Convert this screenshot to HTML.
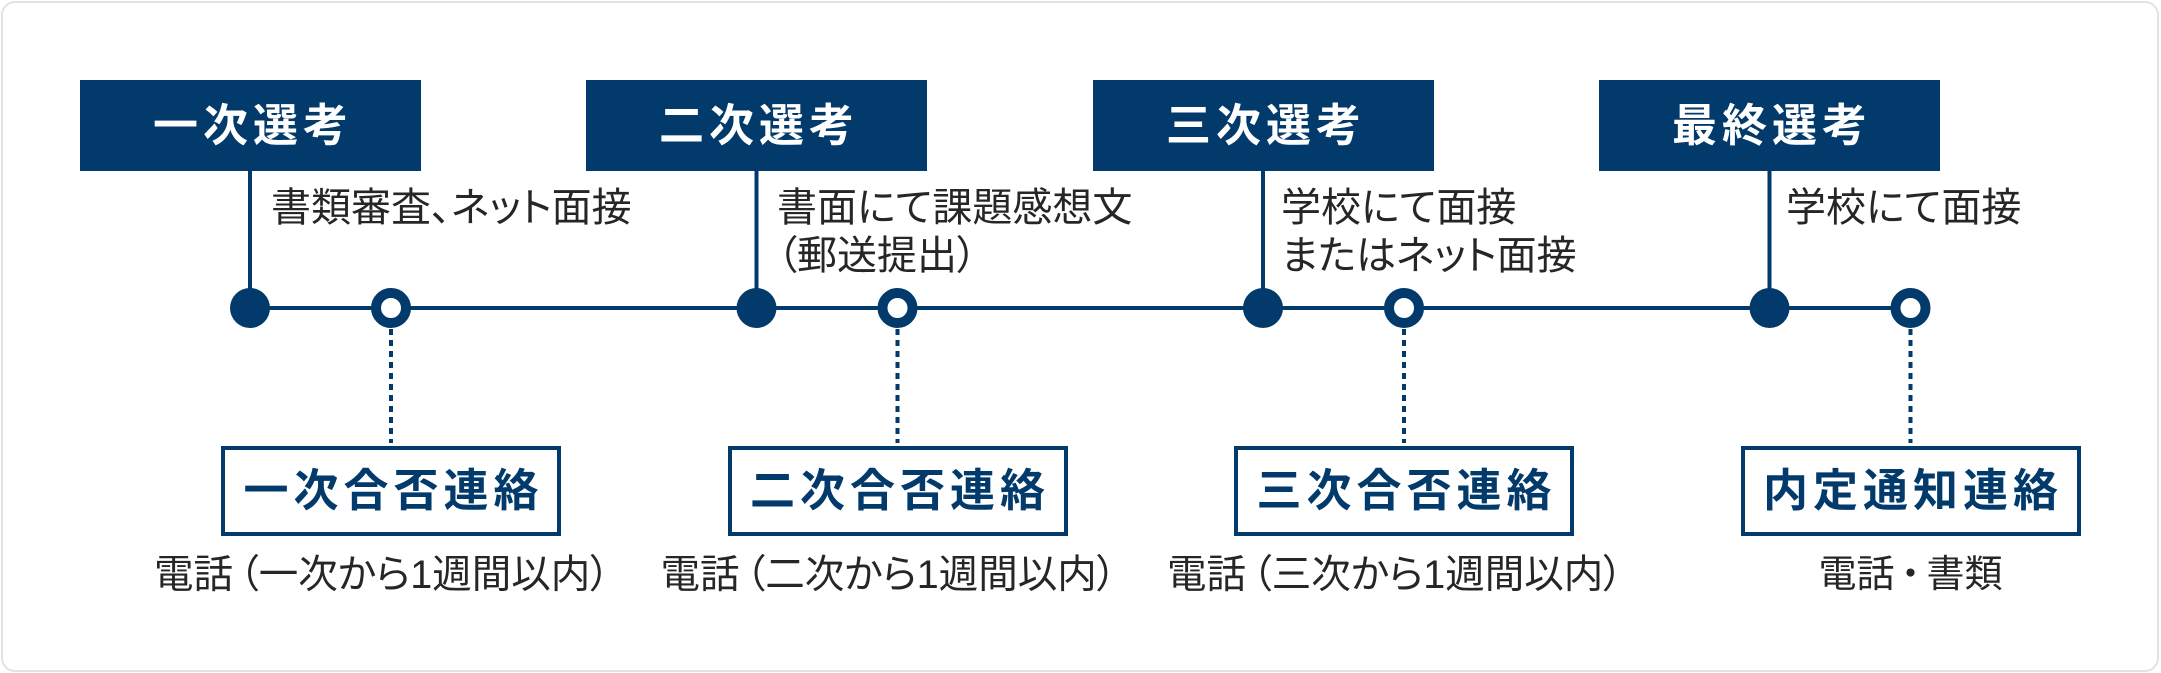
<!DOCTYPE html>
<html lang="ja">
<head>
<meta charset="utf-8">
<style>
  html,body{margin:0;padding:0;background:#fff;}
  body{width:2161px;height:673px;position:relative;overflow:hidden;
       font-family:"Liberation Sans","Noto Sans CJK JP",sans-serif;}
  .frame{position:absolute;left:1px;top:1px;width:2158px;height:671px;box-sizing:border-box;
         border:2px solid #e2e2e2;border-radius:14px;}
  .title{position:absolute;top:80px;width:341px;height:91px;background:#023a6b;color:#fff;
         font-weight:bold;font-size:45px;letter-spacing:5px;line-height:91px;text-align:center;
         box-sizing:border-box;padding-left:5px;white-space:nowrap;}
  .result{position:absolute;top:446px;width:340px;height:90px;border:4px solid #023a6b;background:#fff;
          box-sizing:border-box;color:#023a6b;font-weight:bold;font-size:45px;letter-spacing:5px;
          line-height:82px;text-align:center;padding-left:5px;white-space:nowrap;}
  .desc{position:absolute;top:184px;font-size:40px;line-height:48px;color:#262626;
        font-feature-settings:"palt" 1;white-space:nowrap;}
  .note{position:absolute;top:551px;font-size:39.5px;line-height:48px;color:#262626;
        font-feature-settings:"palt" 1;white-space:nowrap;}
  .note2{position:absolute;top:551px;width:520px;font-size:38px;line-height:48px;color:#262626;
        text-align:center;white-space:nowrap;}
  .par{margin-left:6px;}
  .dot{margin:0 -3px;}
  svg{position:absolute;left:0;top:0;}
</style>
</head>
<body>
<div class="frame"></div>

<svg width="2161" height="673" viewBox="0 0 2161 673">
  <g fill="#023a6b">
    <rect x="250" y="306" width="1660.5" height="4"/>
    <rect x="248" y="170" width="4" height="120"/>
    <rect x="754.5" y="170" width="4" height="120"/>
    <rect x="1261" y="170" width="4" height="120"/>
    <rect x="1767.5" y="170" width="4" height="120"/>
    <circle cx="250" cy="308" r="20"/>
    <circle cx="756.5" cy="308" r="20"/>
    <circle cx="1263" cy="308" r="20"/>
    <circle cx="1769.5" cy="308" r="20"/>
  </g>
  <g fill="#fff" stroke="#023a6b" stroke-width="10">
    <circle cx="391" cy="308" r="15"/>
    <circle cx="897.5" cy="308" r="15"/>
    <circle cx="1404" cy="308" r="15"/>
    <circle cx="1910.5" cy="308" r="15"/>
  </g>
  <g stroke="#023a6b" stroke-width="4" stroke-dasharray="6 5">
    <line x1="391" y1="329" x2="391" y2="443"/>
    <line x1="897.5" y1="329" x2="897.5" y2="443"/>
    <line x1="1404" y1="329" x2="1404" y2="443"/>
    <line x1="1910.5" y1="329" x2="1910.5" y2="443"/>
  </g>
</svg>

<div class="title" style="left:80px;">一次選考</div>
<div class="title" style="left:586px;">二次選考</div>
<div class="title" style="left:1093px;">三次選考</div>
<div class="title" style="left:1599px;">最終選考</div>

<div class="desc" style="left:271px;">書類審査、ネット面接</div>
<div class="desc" style="left:777px;">書面にて課題感想文<br>（郵送提出）</div>
<div class="desc" style="left:1281px;">学校にて面接<br>またはネット面接</div>
<div class="desc" style="left:1786px;">学校にて面接</div>

<div class="result" style="left:221px;">一次合否連絡</div>
<div class="result" style="left:727.5px;">二次合否連絡</div>
<div class="result" style="left:1234px;">三次合否連絡</div>
<div class="result" style="left:1740.5px;">内定通知連絡</div>

<div class="note" style="left:154px;">電話<span class="par">（</span>一次から1週間以内）</div>
<div class="note" style="left:660.5px;">電話<span class="par">（</span>二次から1週間以内）</div>
<div class="note" style="left:1167px;">電話<span class="par">（</span>三次から1週間以内）</div>
<div class="note2" style="left:1650.5px;">電話<span class="dot">・</span>書類</div>
</body>
</html>
